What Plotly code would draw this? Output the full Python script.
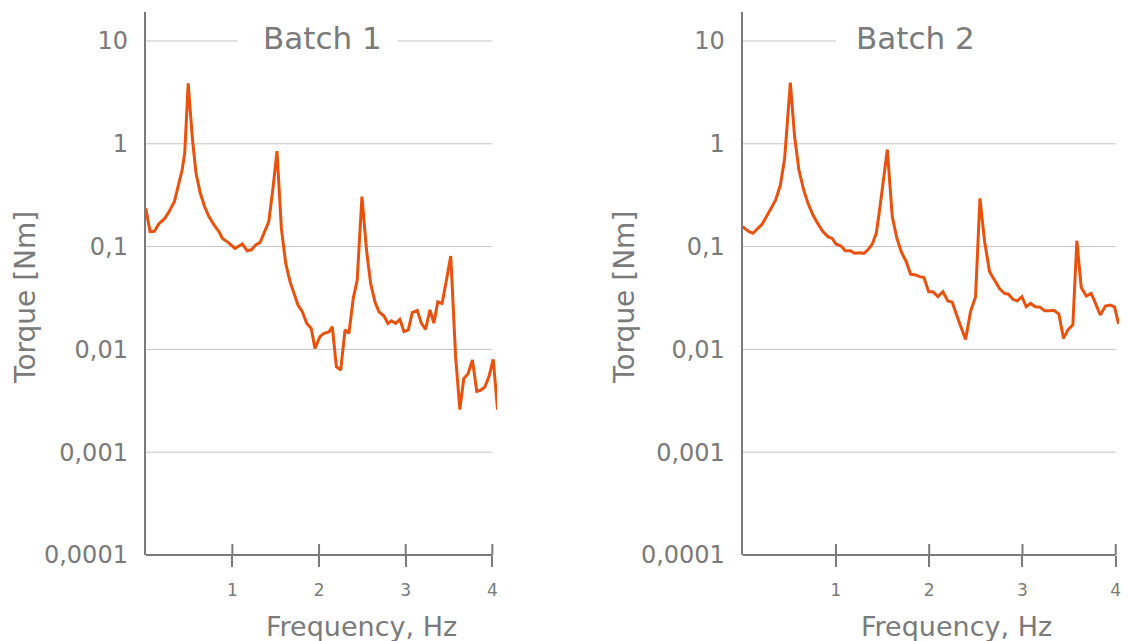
import plotly.graph_objects as go

# ---------------- data ----------------
freq_batch1 = [0.0, 0.05, 0.10, 0.15, 0.22, 0.27, 0.33, 0.37, 0.42, 0.45, 0.49, 0.51, 0.54, 0.58, 0.63,
               0.68, 0.73, 0.79, 0.845, 0.885, 0.95, 1.03, 1.115, 1.17, 1.22, 1.27, 1.32, 1.365, 1.42, 1.47,
               1.515, 1.565, 1.615, 1.665, 1.71, 1.757, 1.807, 1.857, 1.91, 1.953, 2.01, 2.057, 2.115, 2.153,
               2.2, 2.25, 2.3, 2.345, 2.395, 2.44, 2.495, 2.55, 2.595, 2.645, 2.69, 2.75, 2.795, 2.837, 2.884,
               2.933, 2.98, 3.03, 3.076, 3.134, 3.18, 3.23, 3.28, 3.325, 3.37, 3.42, 3.47, 3.52, 3.576, 3.625,
               3.67, 3.72, 3.77, 3.82, 3.864, 3.913, 3.96, 4.01, 4.06]
torque_batch1 = [0.236, 0.14, 0.141, 0.166, 0.188, 0.219, 0.273, 0.369, 0.556, 0.81, 3.88, 2.3, 1.09, 0.516,
                 0.33, 0.244, 0.195, 0.162, 0.14, 0.12, 0.11, 0.096, 0.106, 0.091, 0.093, 0.104, 0.11, 0.135,
                 0.175, 0.38, 0.85, 0.151, 0.069, 0.0456, 0.035, 0.027, 0.0233, 0.018, 0.016, 0.0102, 0.0133,
                 0.0143, 0.0148, 0.0166, 0.0068, 0.0063, 0.0155, 0.0143, 0.0314, 0.047, 0.306, 0.089, 0.044,
                 0.029, 0.0233, 0.0211, 0.0179, 0.019, 0.0179, 0.0196, 0.0149, 0.0155, 0.0228, 0.0239, 0.018,
                 0.0157, 0.0242, 0.018, 0.029, 0.028, 0.047, 0.081, 0.0085, 0.0026, 0.0052, 0.0058, 0.0079,
                 0.0039, 0.004, 0.0043, 0.0054, 0.008, 0.0026]

freq_batch2 = [0.0, 0.068, 0.11, 0.164, 0.21, 0.254, 0.307, 0.354, 0.404, 0.45, 0.511, 0.557, 0.603, 0.654,
               0.7, 0.754, 0.808, 0.86, 0.914, 0.96, 1.0, 1.057, 1.1, 1.154, 1.2, 1.254, 1.3, 1.343, 1.39,
               1.433, 1.468, 1.551, 1.604, 1.654, 1.7, 1.754, 1.8, 1.854, 1.897, 1.944, 1.994, 2.04, 2.094,
               2.147, 2.2, 2.247, 2.307, 2.39, 2.443, 2.497, 2.544, 2.594, 2.647, 2.7, 2.754, 2.808, 2.85,
               2.897, 2.944, 2.994, 3.04, 3.087, 3.137, 3.183, 3.237, 3.29, 3.337, 3.39, 3.44, 3.487, 3.54,
               3.583, 3.63, 3.684, 3.737, 3.783, 3.834, 3.89, 3.94, 3.987, 4.03]
torque_batch2 = [0.156, 0.14, 0.135, 0.151, 0.166, 0.195, 0.236, 0.284, 0.397, 0.72, 3.93, 1.17, 0.556, 0.356,
                 0.264, 0.203, 0.166, 0.14, 0.125, 0.12, 0.106, 0.101, 0.091, 0.091, 0.086, 0.087, 0.086,
                 0.093, 0.106, 0.135, 0.227, 0.88, 0.195, 0.12, 0.089, 0.0713, 0.054, 0.053, 0.051, 0.0499,
                 0.0364, 0.0364, 0.0326, 0.0364, 0.0296, 0.0288, 0.02, 0.0125, 0.0233, 0.0326, 0.295, 0.112,
                 0.057, 0.047, 0.039, 0.035, 0.0344, 0.0307, 0.0297, 0.0326, 0.026, 0.028, 0.026, 0.0259,
                 0.0238, 0.0238, 0.024, 0.0221, 0.0128, 0.0155, 0.0173, 0.114, 0.040, 0.033, 0.035, 0.028,
                 0.0216, 0.0264, 0.027, 0.026, 0.0177]

panel_titles = ["Batch 1", "Batch 2"]
x_ticks = [1, 2, 3, 4]
y_tickvals = [10, 1, 0.1, 0.01, 0.001, 0.0001]
y_ticktext = ["10", "1", "0,1", "0,01", "0,001", "0,0001"]
x_title = "Frequency, Hz"
y_title = "Torque [Nm]"

# ---------------- style ----------------
FONT = "DejaVu Sans"
GRAY = "#7a7a7a"
GRID = "#c4c4c4"
LINE = "#E8520E"
W, H = 1129, 641

fig = go.Figure()
fig.add_trace(go.Scatter(x=freq_batch1, y=torque_batch1, mode="lines",
                         line=dict(color=LINE, width=3), xaxis="x", yaxis="y", showlegend=False))
fig.add_trace(go.Scatter(x=freq_batch2, y=torque_batch2, mode="lines",
                         line=dict(color=LINE, width=3), xaxis="x2", yaxis="y2", showlegend=False))

yrange = [-4, 1.282]

def xaxis(domain, rng, anchor):
    return dict(domain=domain, range=rng, anchor=anchor, showgrid=False, zeroline=False, showline=False,
                tickvals=x_ticks, ticktext=[str(t) for t in x_ticks], ticks="outside", ticklen=11,
                tickwidth=2, tickcolor=GRAY, ticklabelstandoff=9,
                tickfont=dict(family=FONT, size=17, color=GRAY))

def yaxis(anchor):
    return dict(type="log", range=yrange, anchor=anchor, showgrid=False, zeroline=False,
                showline=True, linecolor=GRAY, linewidth=2, ticks="",
                tickvals=y_tickvals, ticktext=y_ticktext, ticklabelstandoff=11,
                tickfont=dict(family=FONT, size=24, color=GRAY))

fig.update_layout(
    width=W, height=H,
    margin=dict(l=0, r=0, t=12, b=86),
    paper_bgcolor="white", plot_bgcolor="white",
    xaxis=xaxis([146 / W, 498 / W], [0, 4.055], "y"),
    yaxis=yaxis("x"),
    xaxis2=xaxis([744 / W, 1121 / W], [0, 4.035], "y2"),
    yaxis2=yaxis("x2"),
)

shapes = []
annotations = []
panels = [("x", "y", [(0, 1.06), (2.91, 4)], 2.036, 2.49),
          ("x2", "y2", [(0, 1.0)], 1.854, 2.29)]
for i, (xr, yr, top_segments, title_x, xtitle_x) in enumerate(panels):
    for v in y_tickvals[1:-1]:
        shapes.append(dict(type="line", xref=xr, yref=yr, x0=0, x1=4, y0=v, y1=v,
                           line=dict(color=GRID, width=1), layer="below"))
    for a, b in top_segments:
        shapes.append(dict(type="line", xref=xr, yref=yr, x0=a, x1=b, y0=10, y1=10,
                           line=dict(color=GRID, width=1), layer="below"))
    shapes.append(dict(type="line", xref=xr, yref=yr + " domain", x0=0, x1=4, y0=0, y1=0,
                       line=dict(color=GRAY, width=2)))
    for t in x_ticks:
        shapes.append(dict(type="line", xref=xr, yref=yr + " domain", x0=t, x1=t, y0=0, y1=11 / 543,
                           line=dict(color=GRAY, width=2)))
    annotations.append(dict(text=panel_titles[i], xref=xr, yref=yr, x=title_x, y=1, yshift=3,
                            xanchor="center", yanchor="middle", showarrow=False,
                            font=dict(family=FONT, size=31, color=GRAY)))
    annotations.append(dict(text=x_title, xref=xr, yref="paper", x=xtitle_x, y=(555 - 626) / 543,
                            xanchor="center", yanchor="middle", showarrow=False,
                            font=dict(family=FONT, size=27, color=GRAY)))

for px in (25, 625):
    annotations.append(dict(text=y_title, xref="paper", yref="paper", x=px / W, y=(555 - 297) / 543,
                            xanchor="center", yanchor="middle", textangle=-90, showarrow=False,
                            font=dict(family=FONT, size=28, color=GRAY)))

fig.update_layout(shapes=shapes, annotations=annotations)
fig.write_html("out.html", config={"displayModeBar": False},
               post_script="document.body.style.margin='0';")
